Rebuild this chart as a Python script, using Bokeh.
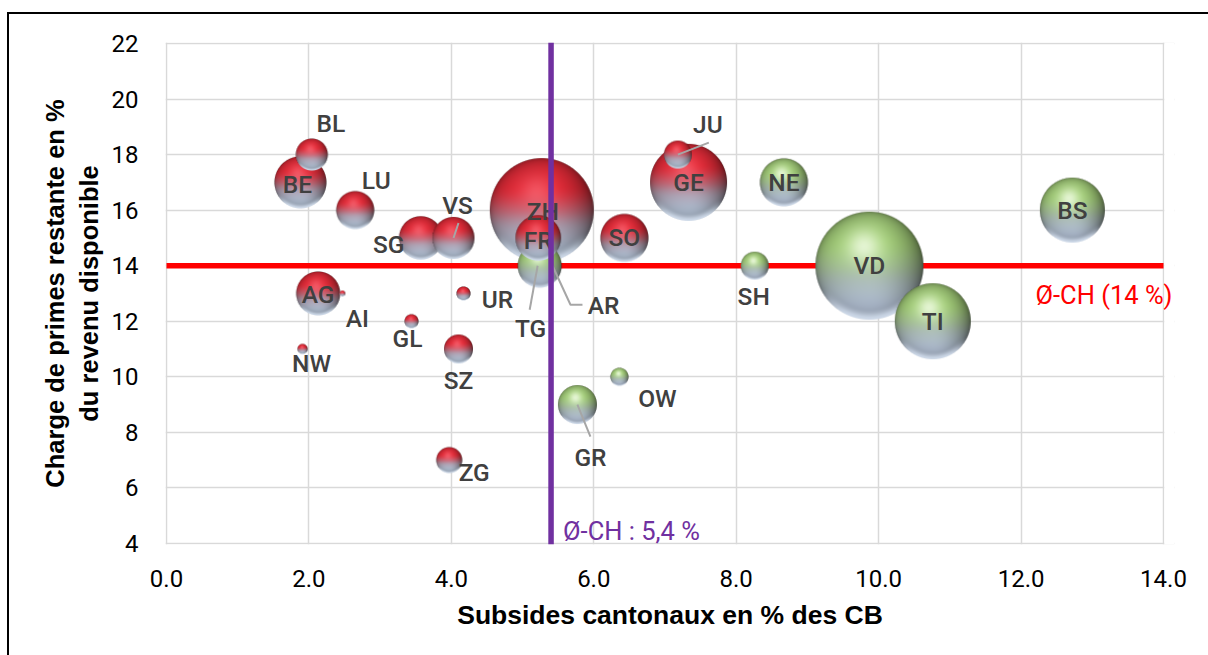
import numpy as np
from bokeh.plotting import figure
from bokeh.models import (ColumnDataSource, FixedTicker, PrintfTickFormatter,
                          Span, Label, BoxAnnotation)
from bokeh.embed import file_html
from bokeh.resources import INLINE
from bokeh.core.properties import value

# ---- data -------------------------------------------------------------
# listed in drawing order (later entries lie on top)
cantons = ["VD", "ZH", "GE", "TI", "BS", "BE", "SO", "NE", "AR", "TG", "FR",
           "AG", "SG", "VS", "GR", "LU", "BL", "SZ", "JU", "SH", "ZG", "OW",
           "UR", "GL", "NW", "AI"]
subsides = [9.87, 5.27, 7.33, 10.76, 12.72, 1.88, 6.43, 8.67, 5.42, 5.24, 5.22,
            2.13, 3.57, 4.03, 5.77, 2.65, 2.04, 4.10, 7.18, 8.26, 3.97, 6.36,
            4.17, 3.44, 1.91, 2.47]
charge = [14, 16, 17, 12, 16, 17, 15, 17, 14, 14, 15,
          13, 15, 15, 9, 16, 18, 11, 18, 14, 7, 10,
          13, 12, 11, 13]
bubble_size = [100.0, 92.7, 50.8, 49.5, 36.2, 23.2, 19.8, 19.8, 2.2, 16.6, 17.8,
               16.6, 16.2, 15.1, 13.0, 12.4, 8.8, 7.2, 6.7, 6.7, 5.8, 2.8,
               1.7, 1.7, 0.9, 0.3]
group = ["g", "r", "r", "g", "g", "r", "r", "g", "g", "g", "r",
         "r", "r", "r", "g", "r", "r", "r", "r", "g", "r", "g",
         "r", "r", "r", "r"]

avg_subsides = 5.4
avg_charge = 14

x_ticks = [0, 2, 4, 6, 8, 10, 12, 14]
y_ticks = [4, 6, 8, 10, 12, 14, 16, 18, 20, 22]

# ---- layout / style ---------------------------------------------------
X0, X1, Y0, Y1 = 0, 14, 4, 22
AXW, AXH = 997, 500            # pixels spanned by the axis ranges
SX, SY = AXW / (X1 - X0), AXH / (Y1 - Y0)
PAD_L, PAD_R, PAD_V = 1, 11, 1  # frame padding (px) so edge lines and the right label show
MAX_R = 54.0

# label offsets in pixels (screen, y downwards)
label_off = {
    "BL": (19, -31), "LU": (21, -30), "SG": (-32, 7), "VS": (4, -32),
    "ZH": (1, 1), "FR": (0, 3), "TG": (-9, 63), "AR": (51, 40),
    "JU": (30, -30), "SH": (-1, 31), "AI": (15, 25), "UR": (34, 6),
    "GL": (-4, 17), "NW": (9, 14), "SZ": (0, 31), "ZG": (25, 12),
    "GR": (13, 53), "OW": (38, 22), "BE": (-3, 2), "AG": (0, 1),
}
# leader lines, as pixel offsets from the bubble centre
leaders = {
    "VS": [(0, 0), (5, -15)],
    "TG": [(-2, 0), (-10, 44)],
    "AR": [(0, 0), (18, 39), (30, 39)],
    "GR": [(0, 0), (13, 32)],
    "JU": [(0, 0), (31, -12)],
}


def smoothstep(a, b, t):
    u = np.clip((t - a) / (b - a), 0, 1)
    return u * u * (3 - 2 * u)


def sphere(r, kind):
    n = int(np.ceil(2 * r)) + 2
    c = (n - 1) / 2.0
    yy, xx = np.mgrid[0:n, 0:n].astype(float)
    dx = (xx - c) / r
    dy = (yy - c) / r
    d = np.hypot(dx, dy)
    alpha = np.clip((1 - d) * r + 0.5, 0, 1)
    nz = np.sqrt(np.clip(1 - d * d, 0, 1))
    if kind == "r":
        top = np.array([244, 46, 60], float)
        mid = np.array([178, 148, 164], float)
        hl, hl_col = 0.32, np.array([255, 160, 172], float)
    else:
        top = np.array([178, 224, 132], float)
        mid = np.array([172, 190, 176], float)
        hl, hl_col = 0.72, np.array([248, 255, 240], float)
    bottom = np.array([186, 200, 220], float)
    t = np.clip((dy + 1) / 2, 0, 1)
    w1 = smoothstep(0.26, 0.7, t)[..., None]
    w2 = smoothstep(0.5, 0.9, t)[..., None]
    col = top * (1 - w1) + mid * w1
    col = col * (1 - w2) + bottom * w2
    # edge darkening, a little stronger on the right-hand side
    shade = 0.34 + 0.66 * nz ** 0.5
    shade = shade * (1 - 0.32 * np.clip(dx, 0, 1) ** 2)
    col = col * shade[..., None]
    spec = np.exp(-((dx + 0.1) ** 2 + (dy + 0.36) ** 2) / 0.09) * hl
    col = col + (hl_col - col) * spec[..., None]
    rim = smoothstep(0.8, 0.99, d) * smoothstep(0.4, 0.92, dy)
    col = col + (np.array([220, 232, 248], float) - col) * (0.85 * rim)[..., None]
    col = np.clip(col, 0, 255)
    rgba = np.dstack([col, (alpha * 255)[..., None]]).astype(np.uint8)
    img = rgba.view(np.uint32).reshape(n, n)
    return np.ascontiguousarray(img[::-1]), n


images, dims = [], []
for s, g in zip(bubble_size, group):
    r = MAX_R * np.sqrt(s / max(bubble_size))
    img, n = sphere(max(r, 2.5), g)
    images.append(img)
    dims.append(n)

bubbles = ColumnDataSource(dict(image=images, x=subsides, y=charge, dw=dims, dh=dims))

lab_dx = [label_off.get(c, (0, 0))[0] for c in cantons]
lab_dy = [label_off.get(c, (0, 0))[1] for c in cantons]
labels = ColumnDataSource(dict(x=subsides, y=charge, text=cantons, dx=lab_dx, dy=lab_dy))

lx, ly = [], []
for c, pts in leaders.items():
    i = cantons.index(c)
    lx.append([subsides[i] + px / SX for px, _ in pts])
    ly.append([charge[i] - py / SY for _, py in pts])

# ---- figure -----------------------------------------------------------
p = figure(frame_width=AXW + PAD_L + PAD_R, frame_height=AXH + 2 * PAD_V,
           x_range=(X0 - PAD_L / SX, X1 + PAD_R / SX),
           y_range=(Y0 - PAD_V / SY, Y1 + PAD_V / SY),
           output_backend="svg", toolbar_location=None,
           min_border_left=156, min_border_right=34, min_border_top=28,
           min_border_bottom=111)
p.styles = {"margin-left": "7px", "margin-top": "12px",
            "border-left": "2px solid black", "border-top": "2px solid black"}
p.background_fill_color = "white"
p.border_fill_color = "white"
p.outline_line_color = None

for ax in (p.xaxis[0], p.yaxis[0]):
    ax.axis_line_color = None
    ax.major_tick_line_color = None
    ax.minor_tick_line_color = None
    ax.major_label_text_font = "Roboto"
    ax.major_label_text_font_size = "24px"
    ax.major_label_text_color = "black"
    ax.axis_label_text_font = "Liberation Sans"
    ax.axis_label_text_font_style = "bold"
    ax.axis_label_text_color = "black"

p.xaxis.axis_label_text_font_size = "26.5px"
p.yaxis.axis_label_text_font_size = "25.5px"
p.xaxis.ticker = FixedTicker(ticks=x_ticks)
p.xaxis.formatter = PrintfTickFormatter(format="%.1f")
p.yaxis.ticker = FixedTicker(ticks=y_ticks)
p.xaxis.major_label_standoff = 19
p.yaxis.major_label_standoff = 21
p.xaxis.axis_label = "Subsides cantonaux en % des CB"
p.yaxis.axis_label = "Charge de primes restante en %\ndu revenu disponible"
p.xaxis.axis_label_standoff = 10
p.yaxis.axis_label_standoff = 6

p.xgrid.ticker = FixedTicker(ticks=x_ticks)
p.ygrid.ticker = FixedTicker(ticks=y_ticks)
for g in (p.xgrid[0], p.ygrid[0]):
    g.grid_line_color = "#d9d9d9"
    g.grid_line_width = 1.5

# keep the horizontal grid lines within the axis range
p.add_layout(BoxAnnotation(left=X1 + 0.8 / SX, fill_color="white", fill_alpha=1,
                           line_color=None, level="underlay"))

# average lines, beneath the bubbles
p.segment(x0=[X0], x1=[X1], y0=[avg_charge], y1=[avg_charge],
          line_color="#ff0000", line_width=5.5)
p.add_layout(Span(location=avg_subsides, dimension="height", line_color="#7030a0",
                  line_width=5.5, level="glyph"))

p.image_rgba(image="image", x="x", y="y", dw="dw", dh="dh", source=bubbles,
             dw_units="screen", dh_units="screen", anchor="center")

p.multi_line(xs=lx, ys=ly, line_color="#a6a6a6", line_width=2)

p.text(x="x", y="y", text="text", x_offset="dx", y_offset="dy", source=labels,
       text_font=value("Roboto Medium"), text_font_size="24.5px", text_color="#404040",
       text_align="center", text_baseline="middle")

p.add_layout(Label(x=X1, y=avg_charge, text="Ø-CH (14 %)", x_offset=9, y_offset=-29,
                   text_font="Roboto", text_font_size="25.5px", text_color="#ff0000",
                   text_align="right", text_baseline="middle"))
p.add_layout(Label(x=avg_subsides, y=Y0, text="Ø-CH : 5,4 %", x_offset=12, y_offset=13,
                   text_font="Roboto", text_font_size="25.5px", text_color="#7030a0",
                   text_align="left", text_baseline="middle"))

open("out.html", "w").write(file_html(p, INLINE))
